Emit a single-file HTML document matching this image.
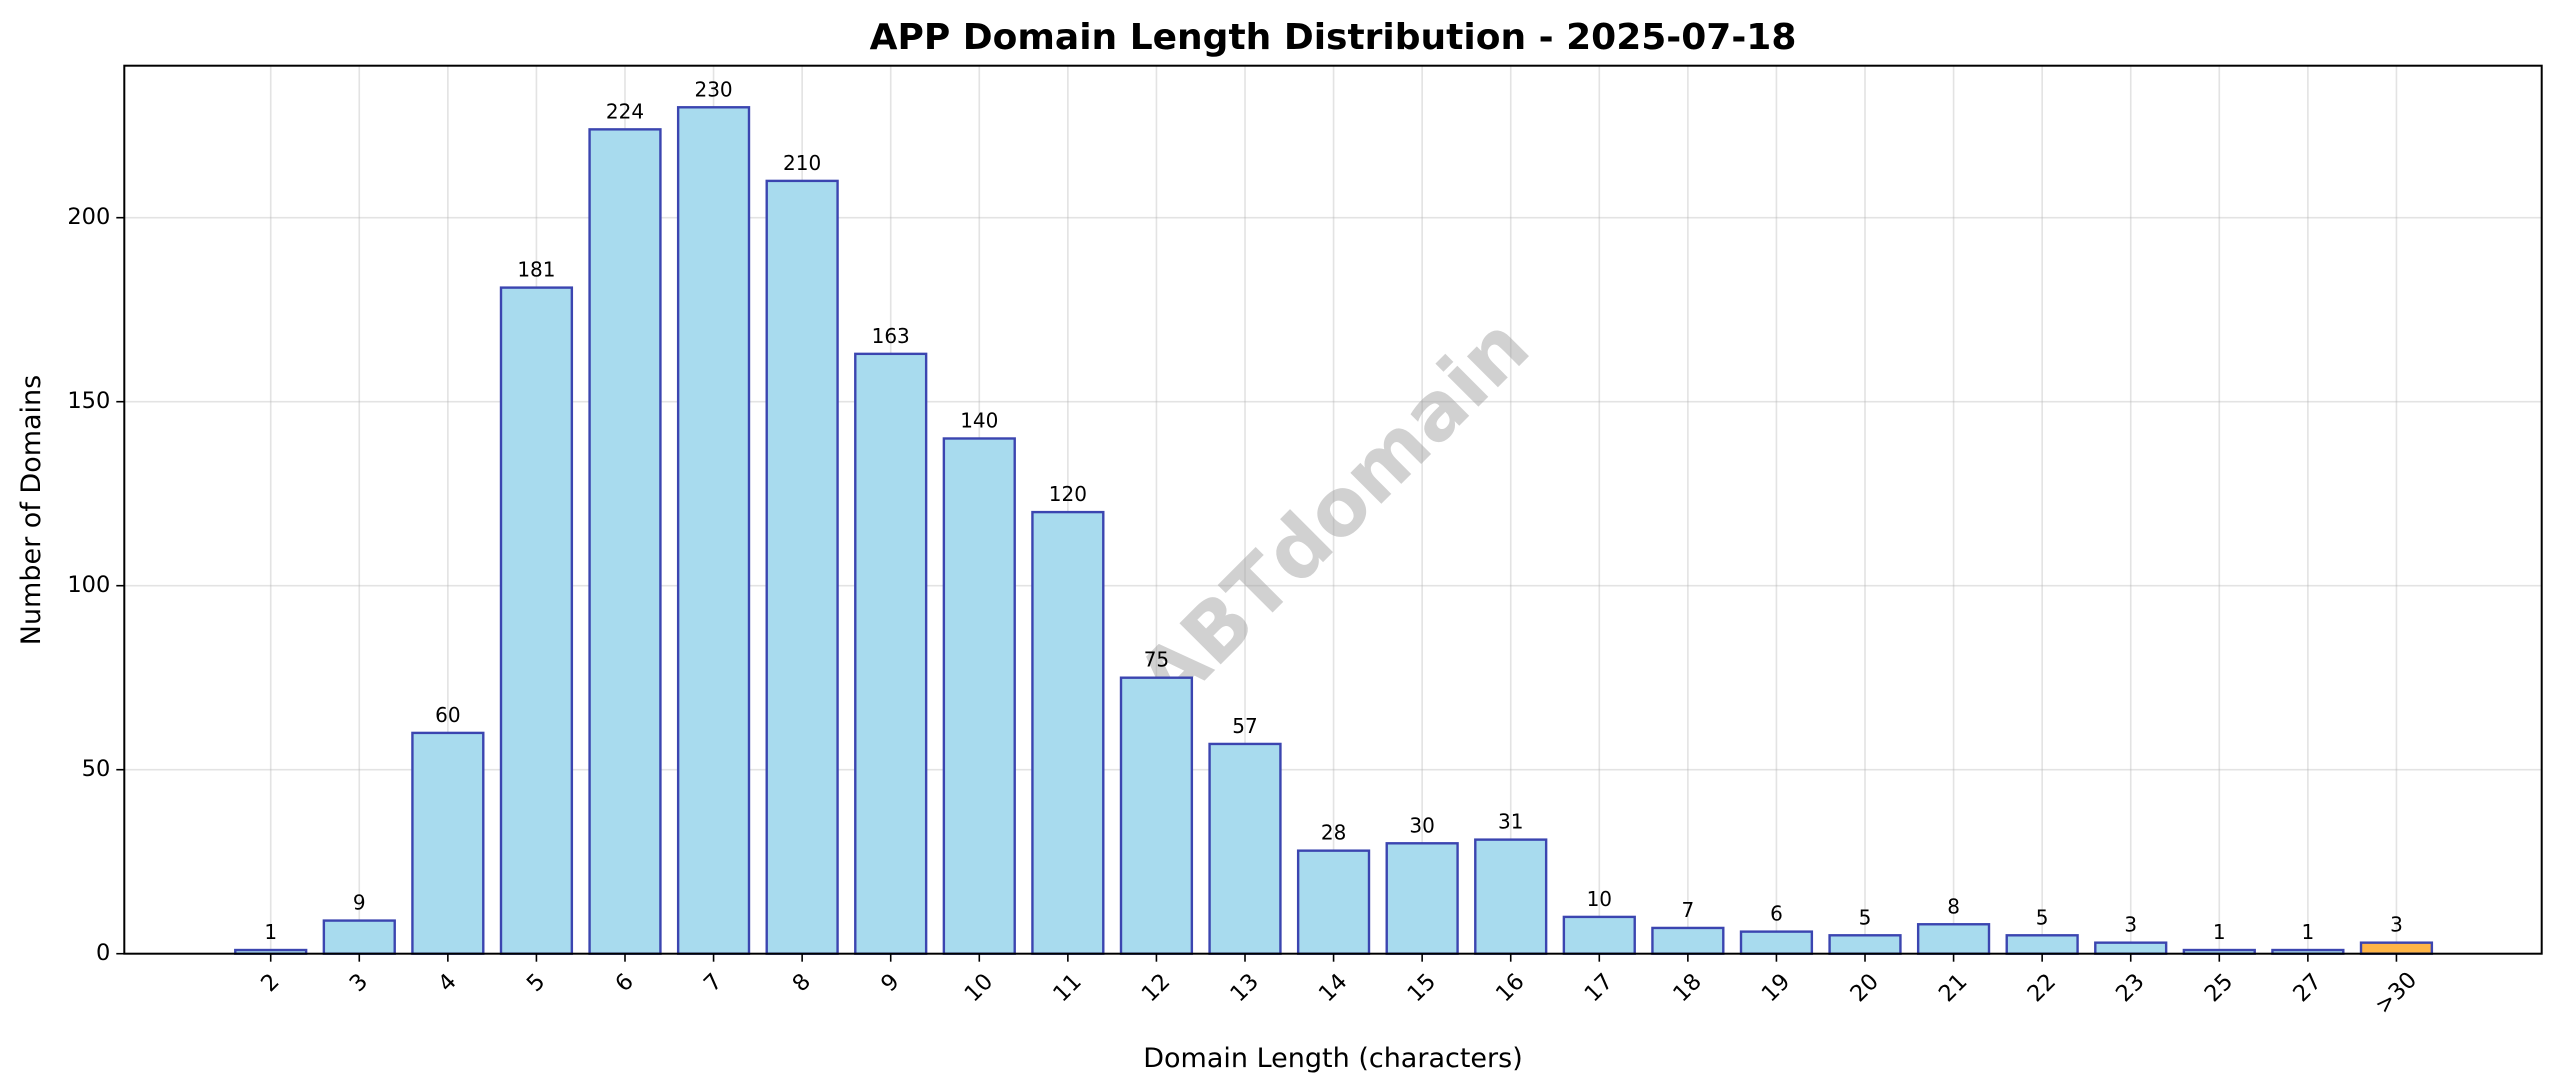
<!DOCTYPE html>
<html><head><meta charset="utf-8"><style>
html,body{margin:0;padding:0;background:#fff;}
svg{display:block;font-family:"DejaVu Sans","Liberation Sans",sans-serif;}
</style></head><body>
<svg id="chart" width="2560" height="1087" viewBox="0 0 2560 1087" xmlns="http://www.w3.org/2000/svg">
<rect width="2560" height="1087" fill="#fff"/>
<g id="grid"></g>
<text x="1337" y="517" transform="rotate(-45 1337 517)" text-anchor="middle" dominant-baseline="middle" font-size="80" font-weight="bold" fill="#999" fill-opacity="0.45">ABTdomain</text>
<g id="bars"></g>
<g id="axes"></g>
<text x="1333" y="49" text-anchor="middle" font-size="36" font-weight="bold" fill="#000">APP Domain Length Distribution - 2025-07-18</text>
<text x="1333" y="1067" text-anchor="middle" font-size="27" fill="#000">Domain Length (characters)</text>
<text x="40" y="510" transform="rotate(-90 40 510)" text-anchor="middle" font-size="27" fill="#000">Number of Domains</text>
</svg>
<script>
const categories = ["2","3","4","5","6","7","8","9","10","11","12","13","14","15","16","17","18","19","20","21","22","23","25","27",">30"];
const counts = [1,9,60,181,224,230,210,163,140,120,75,57,28,30,31,10,7,6,5,8,5,3,1,1,3];
const yTicks = [0,50,100,150,200];

const NS = "http://www.w3.org/2000/svg";
const L = 124.3, R = 2541.7, T = 65.7, B = 953.7;
const xMin = -1.653, xMax = 25.64, yMax = 241.3;
function xs(i){ return L + (i - xMin) / (xMax - xMin) * (R - L); }
function ys(v){ return B - v / yMax * (B - T); }
function mk(tag, attrs, parent){
  const e = document.createElementNS(NS, tag);
  for (const k in attrs) e.setAttribute(k, attrs[k]);
  parent.appendChild(e);
  return e;
}
const grid = document.getElementById('grid');
const bars = document.getElementById('bars');
const axes = document.getElementById('axes');
const bw = 0.8 * (xs(1) - xs(0));

categories.forEach((c, i) => {
  const x = xs(i);
  const g = mk('line', {x1:x, x2:x, y1:T, y2:B, stroke:'#b0b0b0', 'stroke-opacity':0.35, 'stroke-width':1.6}, grid);
  
  
});
yTicks.forEach(v => {
  const y = ys(v);
  const g = mk('line', {x1:L, x2:R, y1:y, y2:y, stroke:'#b0b0b0', 'stroke-opacity':0.35, 'stroke-width':1.6}, grid);
  
  
});

counts.forEach((v, i) => {
  const x = xs(i);
  const last = i === counts.length - 1;
  const r = mk('rect', {x: x - bw/2, y: ys(v), width: bw, height: B - ys(v),
    fill: last ? '#ffb547' : '#a8dbee', stroke: '#3b45b0', 'stroke-width': 2.4}, bars);
  
  
  const t = mk('text', {x: x, y: ys(v) - 11, 'text-anchor':'middle', 'font-size':20, fill:'#000'}, bars);
  t.textContent = v;
  
  
});

// axes frame
const frame = mk('rect', {x:L, y:T, width:R-L, height:B-T, fill:'none', stroke:'#000', 'stroke-width':2}, axes);



yTicks.forEach(v => {
  const y = ys(v);
  const tk = mk('line', {x1:L-8, x2:L, y1:y, y2:y, stroke:'#000', 'stroke-width':1.6}, axes);
  
  
  const t = mk('text', {x:L-14, y:y, 'text-anchor':'end', 'dominant-baseline':'middle', 'font-size':22.5, fill:'#000'}, axes);
  t.textContent = v;
  
  
});

categories.forEach((c, i) => {
  const x = xs(i);
  const tk = mk('line', {x1:x, x2:x, y1:B, y2:B+8, stroke:'#000', 'stroke-width':1.6}, axes);
  
  
  const w = c.length * 14.3, h = 24;
  const cy = B + 16 + (w + h) * 0.707 / 2;
  const t = mk('text', {x:x, y:cy, 'text-anchor':'middle', 'dominant-baseline':'middle', 'font-size':22.5, fill:'#000',
    transform:'rotate(-45 ' + x + ' ' + cy + ')'}, axes);
  t.textContent = c;
  
  
});
</script>
</body></html>
